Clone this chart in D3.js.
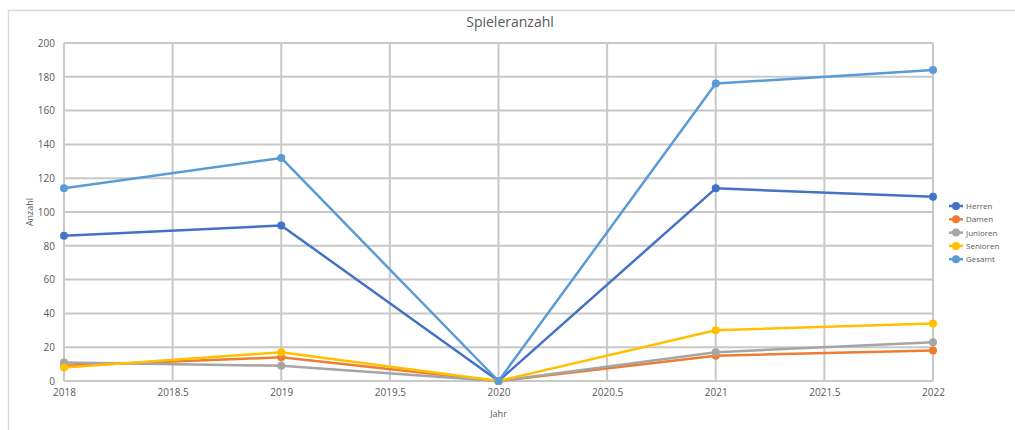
<!DOCTYPE html>
<html>
<head>
<meta charset="utf-8">
<script src="https://cdn.jsdelivr.net/npm/d3@7"></script>
<style>
  body { margin: 0; background: #fff; }
  text { font-family: "Open Sans", "Liberation Sans", sans-serif; fill: #595959; }
</style>
</head>
<body>
<div id="chart"></div>
<script>
// data
const years = [2018, 2019, 2020, 2021, 2022];
const herren = [86, 92, 0, 114, 109];
const damen = [9, 14, 0, 15, 18];
const junioren = [11, 9, 0, 17, 23];
const senioren = [8, 17, 0, 30, 34];
const gesamt = [114, 132, 0, 176, 184];
const seriesNames = ["Herren", "Damen", "Junioren", "Senioren", "Gesamt"];
const seriesColors = ["#4472c4", "#ed7d31", "#a5a5a5", "#ffc000", "#5b9bd5"];
const xTicks = [2018, 2018.5, 2019, 2019.5, 2020, 2020.5, 2021, 2021.5, 2022];
const yTicks = [0, 20, 40, 60, 80, 100, 120, 140, 160, 180, 200];

const W = 1015, H = 430;
const margin = { top: 43, right: 82, bottom: 49, left: 64 };
const width = W - margin.left - margin.right,
  height = H - margin.top - margin.bottom;

const root = d3.select("#chart").append("svg")
  .attr("width", W).attr("height", H);

// chart frame
root.append("rect")
  .attr("x", 8.5).attr("y", 10.5)
  .attr("width", W).attr("height", H)
  .attr("fill", "none").attr("stroke", "#d9d9d9").attr("stroke-width", 1.5);

const svg = root.append("g")
  .attr("transform", `translate(${margin.left}, ${margin.top})`);

const x = d3.scaleLinear().domain([2018, 2022]).range([0, width]);
const y = d3.scaleLinear().domain([0, 200]).range([height, 0]);

// grid
svg.append("g").selectAll("line").data(yTicks).join("line")
  .attr("x1", 0).attr("x2", width)
  .attr("y1", (d) => y(d)).attr("y2", (d) => y(d))
  .attr("stroke", "#c8c8c8").attr("stroke-width", 2);
svg.append("g").selectAll("line").data(xTicks).join("line")
  .attr("x1", (d) => x(d)).attr("x2", (d) => x(d))
  .attr("y1", 0).attr("y2", height)
  .attr("stroke", "#c8c8c8").attr("stroke-width", 2);

// axes
const xAxis = svg.append("g")
  .attr("transform", `translate(0, ${height})`)
  .call(d3.axisBottom(x).tickValues(xTicks).tickSize(0).tickPadding(8)
    .tickFormat((d) => String(d)));
const yAxis = svg.append("g")
  .call(d3.axisLeft(y).tickValues(yTicks).tickSize(0).tickPadding(9));
[xAxis, yAxis].forEach((a) => {
  a.select(".domain").remove();
  a.selectAll("text").style("font-size", "10px").attr("fill", "#595959");
});

// lines
const allSeries = [herren, damen, junioren, senioren, gesamt];
const line = d3.line().x((d, i) => x(years[i])).y((d) => y(d));

allSeries.forEach((vals, k) => {
  svg.append("path").datum(vals)
    .attr("d", line)
    .attr("fill", "none")
    .attr("stroke", seriesColors[k])
    .attr("stroke-width", 2.5)
    .attr("stroke-linejoin", "round");
  svg.append("g").selectAll("circle").data(vals).join("circle")
    .attr("cx", (d, i) => x(years[i]))
    .attr("cy", (d) => y(d))
    .attr("r", 4)
    .attr("fill", seriesColors[k]);
});

// title and axis titles
root.append("text")
  .attr("x", 510).attr("y", 27)
  .attr("text-anchor", "middle")
  .style("font-size", "14px")
  .text("Spieleranzahl");
root.append("text")
  .attr("transform", `translate(33, ${margin.top + height / 2}) rotate(-90)`)
  .attr("text-anchor", "middle")
  .style("font-size", "9px")
  .text("Anzahl");
root.append("text")
  .attr("x", margin.left + x(2020)).attr("y", 417)
  .attr("text-anchor", "middle")
  .style("font-size", "9px")
  .text("Jahr");

// legend
const legend = root.append("g").attr("transform", "translate(955, 206)");
seriesNames.forEach((name, i) => {
  const g = legend.append("g").attr("transform", `translate(0, ${i * 13.3})`);
  g.append("line").attr("x1", -6).attr("x2", 8).attr("y1", 0).attr("y2", 0)
    .attr("stroke", seriesColors[i]).attr("stroke-width", 2.5);
  g.append("circle").attr("cx", 1).attr("cy", 0).attr("r", 4)
    .attr("fill", seriesColors[i]);
  g.append("text").attr("x", 11).attr("y", 3)
    .style("font-size", "8px")
    .text(name);
});
</script>
</body>
</html>
